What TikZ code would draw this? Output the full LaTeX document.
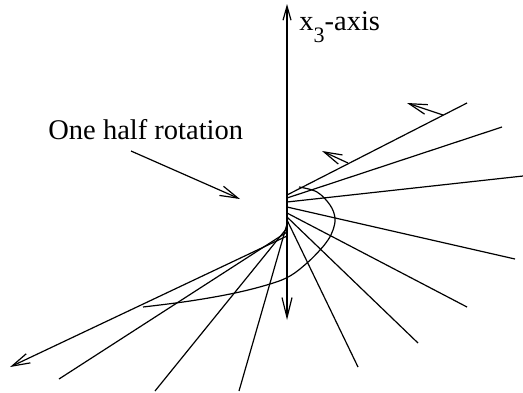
\documentclass[tikz,border=0pt]{standalone}
\usepackage{fontspec}
\setmainfont{Liberation Serif}
\usetikzlibrary{arrows.meta}

\begin{document}
\begin{tikzpicture}[x=0.5pt,y=-0.5pt,
    ray/.style={line width=0.6pt},
    barb/.style={line width=0.6pt,-{Straight Barb[length=9pt,width=5pt]}},
    lbl/.style={inner sep=0pt,anchor=base west,font=\fontsize{14.25}{17}\selectfont}]
  \useasboundingbox (0,0) rectangle (523,392);
  \coordinate (top) at (287,4);
  \coordinate (bot) at (287,320);
  \draw[line width=0.6pt,{Straight Barb[length=7pt,width=4pt]}-{Straight Barb[length=10pt,width=5pt]}] (top) -- (bot);
  \node[lbl] (axis) at (299,30) {x\raisebox{-6pt}{\fontsize{11}{13}\selectfont 3}-axis};
  % rays of the half rotation
  \foreach \s/\ex/\ey [count=\i] in {195/467/103, 198/502/127, 202/523/176, 207/515/259,
      213/467/307, 217/418/343, 220/358/367, 224/239/391, 228/155/391, 232/59/379}{
    \coordinate (s\i) at (287,\s);
    \coordinate (e\i) at (\ex,\ey);
    \draw[ray] (s\i) -- (e\i);
  }
  \coordinate (s11) at (287,236);
  \coordinate (e11) at (10,367);
  \draw[barb] (s11) -- (e11);
  % small arrows on the upper rays
  \coordinate (a1) at (443,115);
  \coordinate (b1) at (407,103);
  \coordinate (a2) at (348,163);
  \coordinate (b2) at (322,151);
  \draw[barb] (a1) -- (b1);
  \draw[barb] (a2) -- (b2);
  % the half turn
  \draw[ray] plot[smooth,tension=0.6] coordinates {(299,187) (317,192) (330,205) (335,218)
      (333,230) (328,240) (320,250) (307,263) (290,276) (270,284) (235,293) (190,301) (143,307)};
  \node[lbl] (half) at (48,139) {One half rotation};
  \coordinate (h1) at (131,151);
  \coordinate (h2) at (240,199);
  \draw[barb] (h1) -- (h2);
\end{tikzpicture}
\end{document}
